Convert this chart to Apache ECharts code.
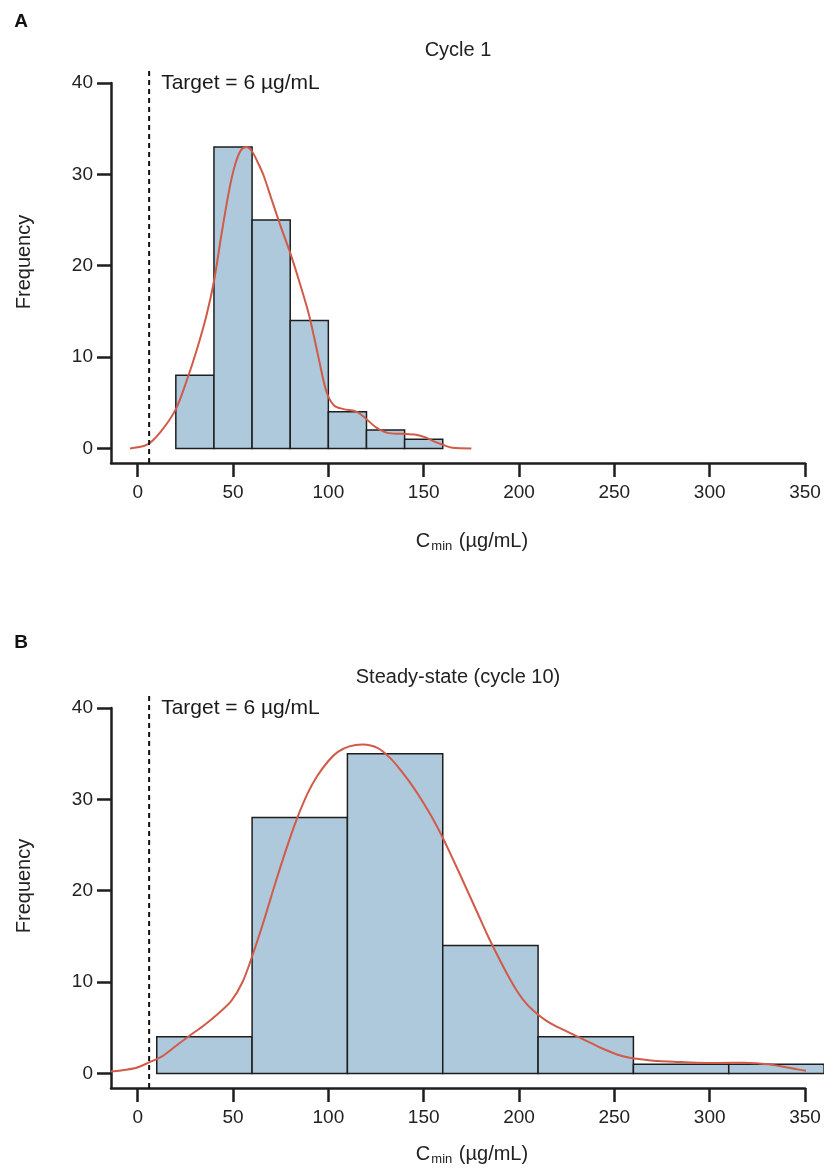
<!DOCTYPE html>
<html>
<head>
<meta charset="utf-8">
<script src="https://cdn.jsdelivr.net/npm/echarts@6/dist/echarts.min.js"></script>
<style>
  html, body { margin: 0; padding: 0; background: #fff; }
  #chart { width: 824px; height: 1169px; }
</style>
</head>
<body>
<div id="chart"></div>
<script>
// histogram bin edges and counts
const edgesA = [20, 40, 60, 80, 100, 120, 140, 160]
const countsA = [8, 33, 25, 14, 4, 2, 1]
const edgesB = [10, 60, 110, 160, 210, 260, 310, 360]
const countsB = [4, 28, 35, 14, 4, 1, 1]

// density curves (scaled to frequency)
const densA_x = [-4, 5, 12, 20, 26, 31, 36, 40, 44, 48, 51, 54, 57, 60, 63, 66, 70, 75, 80, 85, 90, 95, 99, 103, 108, 115, 120, 125, 131, 138, 146, 151, 155, 160, 165, 175]
const densA_y = [0, 0.4, 1.8, 4.3, 7.6, 10.8, 14.5, 18.3, 23.5, 28.3, 31.0, 32.6, 33.0, 32.5, 31.3, 29.9, 27.4, 24.3, 21.4, 18.1, 14.5, 9.8, 6.2, 4.7, 4.3, 4.0, 3.2, 2.3, 1.7, 1.6, 1.5, 1.2, 0.8, 0.4, 0.07, 0]
const densB_x = [-14, -1, 6, 13, 20, 27, 35, 42, 49, 55, 60, 66, 72, 78, 83, 89, 94, 100, 105, 111, 118, 126, 133, 139, 144, 149, 155, 160, 165, 169, 174, 179, 184, 189, 194, 199, 204, 209, 214, 219, 225, 231, 237, 244, 251, 258, 266, 273, 283, 293, 305, 318, 325, 331, 338, 346, 352, 360]
const densB_y = [0.2, 0.6, 1.2, 1.9, 3.0, 4.1, 5.3, 6.5, 7.9, 10.0, 12.8, 16.6, 20.7, 24.6, 27.6, 30.6, 32.5, 34.2, 35.2, 35.8, 36.0, 35.6, 34.4, 32.9, 31.5, 29.9, 27.8, 25.8, 23.6, 21.8, 19.5, 17.2, 14.9, 12.8, 10.8, 9.0, 7.6, 6.6, 5.8, 5.2, 4.6, 4.0, 3.4, 2.7, 2.1, 1.7, 1.5, 1.35, 1.25, 1.17, 1.15, 1.17, 1.1, 1.0, 0.75, 0.44, 0.25, 0.07]

const target = 6
const targetTop = 41.7
const xTicks = [0, 50, 100, 150, 200, 250, 300, 350]
const yTicks = [0, 10, 20, 30, 40]

const font = 'Liberation Sans, Arial, sans-serif'
const ink = '#1e1e1e'
const barFill = '#aec9dc'
const curveColor = '#d25a48'

function toBars(edges, counts) {
    return counts.map((c, i) => [edges[i], edges[i + 1], c])
}
function toPoints(xs, ys) {
    return xs.map((x, i) => [x, ys[i]])
}

function xAxisFor(gridIndex, nameGap) {
    return {
        type: 'value',
        gridIndex: gridIndex,
        min: -14,
        max: 350,
        splitLine: { show: false },
        axisLine: { onZero: false, lineStyle: { color: ink, width: 2.5 } },
        axisTick: { customValues: xTicks, length: 14, lineStyle: { color: ink, width: 2.5 } },
        axisLabel: { customValues: xTicks, margin: 20, fontSize: 19, color: '#222', fontFamily: font },
        name: '{c|C}{s|min}{c| (µg/mL)}',
        nameLocation: 'middle',
        nameGap: nameGap,
        nameTextStyle: {
            padding: [0, 0, 0, 28],
            rich: {
                c: { fontSize: 20, color: '#222', fontFamily: font },
                s: { fontSize: 13, color: '#222', fontFamily: font, padding: [11, 1, 0, 1] }
            }
        }
    }
}

function yAxisFor(gridIndex) {
    return {
        type: 'value',
        gridIndex: gridIndex,
        min: -1.6,
        max: 40,
        splitLine: { show: false },
        axisLine: { show: true, onZero: false, lineStyle: { color: ink, width: 2.5 } },
        axisTick: { show: true, customValues: yTicks, length: 14, lineStyle: { color: ink, width: 2.5 } },
        axisLabel: { customValues: yTicks, margin: 18, fontSize: 19, color: '#222', fontFamily: font }
    }
}

function panelSeries(idx, bars, curve) {
    return [
        {
            type: 'custom',
            xAxisIndex: idx,
            yAxisIndex: idx,
            clip: false,
            data: bars,
            renderItem: function (params, api) {
                const p0 = api.coord([api.value(0), api.value(2)])
                const p1 = api.coord([api.value(1), 0])
                return {
                    type: 'rect',
                    shape: { x: p0[0], y: p0[1], width: p1[0] - p0[0], height: p1[1] - p0[1] },
                    style: { fill: barFill, stroke: ink, lineWidth: 1.5 }
                }
            },
            z: 2
        },
        {
            type: 'line',
            xAxisIndex: idx,
            yAxisIndex: idx,
            data: curve,
            smooth: 0.3,
            symbol: 'none',
            clip: false,
            lineStyle: { color: curveColor, width: 2 },
            z: 3
        },
        {
            type: 'line',
            xAxisIndex: idx,
            yAxisIndex: idx,
            data: [[target, -1.6], [target, targetTop]],
            symbol: 'none',
            clip: false,
            lineStyle: { color: '#111', width: 2, type: [5, 4] },
            z: 4
        },
        {
            type: 'scatter',
            xAxisIndex: idx,
            yAxisIndex: idx,
            data: [[target, 40]],
            symbolSize: 0,
            itemStyle: { opacity: 1 },
            label: {
                show: true,
                position: 'right',
                distance: 12,
                formatter: 'Target = ' + target + ' µg/mL',
                fontSize: 21,
                color: '#1a1a1a',
                fontFamily: font
            },
            emphasis: { disabled: true },
            z: 5
        }
    ]
}

const chart = echarts.init(document.getElementById('chart'))

function textEl(x, y, text, size, extra) {
    return Object.assign({
        type: 'text',
        x: x,
        y: y,
        style: {
            text: text,
            fontSize: size,
            fontFamily: font,
            fill: '#222',
            align: 'center',
            verticalAlign: 'middle'
        }
    }, extra || {})
}

function letterEl(x, y, text) {
    return {
        type: 'text',
        x: x,
        y: y,
        style: { text: text, fontSize: 19, fontWeight: 'bold', fontFamily: font, fill: '#111', align: 'center', verticalAlign: 'middle' }
    }
}

chart.setOption({
    animation: false,
    backgroundColor: '#fff',
    grid: [
        { left: 111, right: 19, top: 83, height: 380 },
        { left: 111, right: 19, top: 708, height: 380 }
    ],
    xAxis: [xAxisFor(0, 66), xAxisFor(1, 54)],
    yAxis: [yAxisFor(0), yAxisFor(1)],
    graphic: [
        letterEl(21, 22, 'A'),
        letterEl(21, 643, 'B'),
        textEl(458, 50, 'Cycle 1', 20),
        textEl(458, 677, 'Steady-state (cycle 10)', 20),
        textEl(24, 262, 'Frequency', 20, { rotation: Math.PI / 2 }),
        textEl(24, 886, 'Frequency', 20, { rotation: Math.PI / 2 })
    ],
    series: [
        ...panelSeries(0, toBars(edgesA, countsA), toPoints(densA_x, densA_y)),
        ...panelSeries(1, toBars(edgesB, countsB), toPoints(densB_x, densB_y))
    ]
})
</script>
</body>
</html>
